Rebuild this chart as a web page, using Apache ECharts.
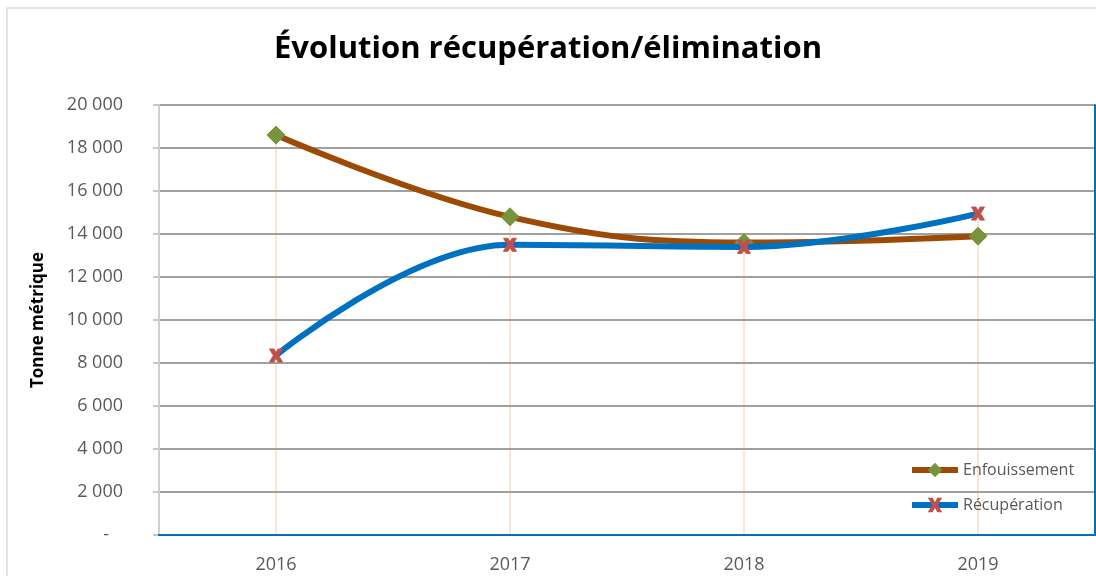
<!DOCTYPE html>
<html>
<head>
<meta charset="utf-8">
<script src="https://cdn.jsdelivr.net/npm/echarts@6/dist/echarts.min.js"></script>
<style>html,body{margin:0;padding:0;background:#fff;}#c{width:1096px;height:576px;}</style>
</head>
<body>
<div id="c"></div>
<script>
var categories = ['2016', '2017', '2018', '2019'];
var enfouissement = [18600, 14800, 13600, 13900];
var recuperation = [8350, 13500, 13400, 14950];
var yTicks = [0, 2000, 4000, 6000, 8000, 10000, 12000, 14000, 16000, 18000, 20000];

var chart = echarts.init(document.getElementById('c'));
var labelFont = 'Open Sans';

function fmt(v) {
  if (v === 0) return '-   ';
  var s = String(v);
  return s.replace(/\B(?=(\d{3})+(?!\d))/g, ' ');
}

var dropData = categories.map(function (c, i) {
  return [{ coord: [c, Math.max(enfouissement[i], recuperation[i])] }, { coord: [c, 0] }];
});

var xPath = 'path://M0,0 L3.4,0 L5,3 L6.6,0 L10,0 L7,5 L10,10 L6.6,10 L5,7 L3.4,10 L0,10 L3,5 Z';

chart.setOption({
  animation: false,
  title: {
    text: 'Évolution récupération/élimination',
    left: 'center',
    top: 29,
    textStyle: { fontFamily: 'Open Sans', fontWeight: 'bold', fontSize: 31, color: '#000' }
  },
  graphic: [{
    type: 'rect', shape: { x: 7, y: 8, width: 1200, height: 1000 },
    style: { fill: 'none', stroke: '#D9D9D9', lineWidth: 1.5 }, z: -10
  }],
  legend: {
    orient: 'vertical',
    left: 909,
    top: 462,
    padding: 0,
    itemGap: 19,
    itemWidth: 46,
    itemHeight: 18,
    textStyle: { fontFamily: labelFont, fontSize: 16, color: '#595959' },
    data: [
      { name: 'Enfouissement', lineStyle: { width: 6 } },
      { name: 'Récupération', lineStyle: { width: 6 } }
    ]
  },
  grid: { left: 159, right: 1, top: 105, bottom: 41 },
  xAxis: [{
    type: 'category',
    data: categories,
    boundaryGap: true,
    axisLine: { show: true, lineStyle: { color: '#1F5E6E', width: 2 } },
    axisTick: { show: false },
    axisLabel: { margin: 21, fontFamily: labelFont, fontSize: 18, color: '#595959' },
    z: 3
  }, {
    type: 'category',
    data: categories,
    position: 'top',
    axisLine: { show: true, lineStyle: { color: '#0070C0', width: 2 } },
    axisTick: { show: false },
    axisLabel: { show: false },
    z: 4
  }],
  yAxis: [{
    type: 'value',
    min: 0,
    max: 20000,
    interval: 2000,
    name: 'Tonne métrique',
    nameLocation: 'middle',
    nameGap: 112,
    nameTextStyle: { fontFamily: labelFont, fontWeight: 'bold', fontSize: 17, color: '#000' },
    axisLine: { show: true, lineStyle: { color: '#D0D0D0', width: 2 } },
    axisTick: { show: true, length: 6, lineStyle: { color: '#C8C8C8', width: 2 } },
    axisLabel: { margin: 36, fontFamily: labelFont, fontSize: 18, color: '#595959', formatter: fmt },
    splitLine: { show: true, lineStyle: { color: '#A0A0A0', width: 2 } },
    z: 2
  }, {
    type: 'value',
    min: 0,
    max: 20000,
    interval: 2000,
    position: 'right',
    axisLine: { show: true, lineStyle: { color: '#0070C0', width: 2 } },
    axisTick: { show: false },
    axisLabel: { show: false },
    splitLine: { show: false },
    z: 4
  }],
  series: [{
    name: 'Enfouissement',
    type: 'line',
    smooth: 0.4,
    data: enfouissement,
    symbol: 'diamond',
    symbolSize: 18,
    lineStyle: { color: '#9C4A06', width: 6 },
    itemStyle: { color: '#77933C', borderColor: '#77933C' },
    z: 5
  }, {
    name: 'Récupération',
    type: 'line',
    smooth: 0.4,
    data: recuperation,
    symbol: xPath,
    symbolSize: 13,
    lineStyle: { color: '#0070C0', width: 6 },
    itemStyle: { color: '#C0504D', borderColor: '#C0504D' },
    z: 6,
    markLine: {
      silent: true,
      symbol: ['none', 'none'],
      label: { show: false },
      lineStyle: { color: '#FBE5D6', width: 2, type: 'solid' },
      data: dropData,
      z: 1
    }
  }]
});
</script>
</body>
</html>
